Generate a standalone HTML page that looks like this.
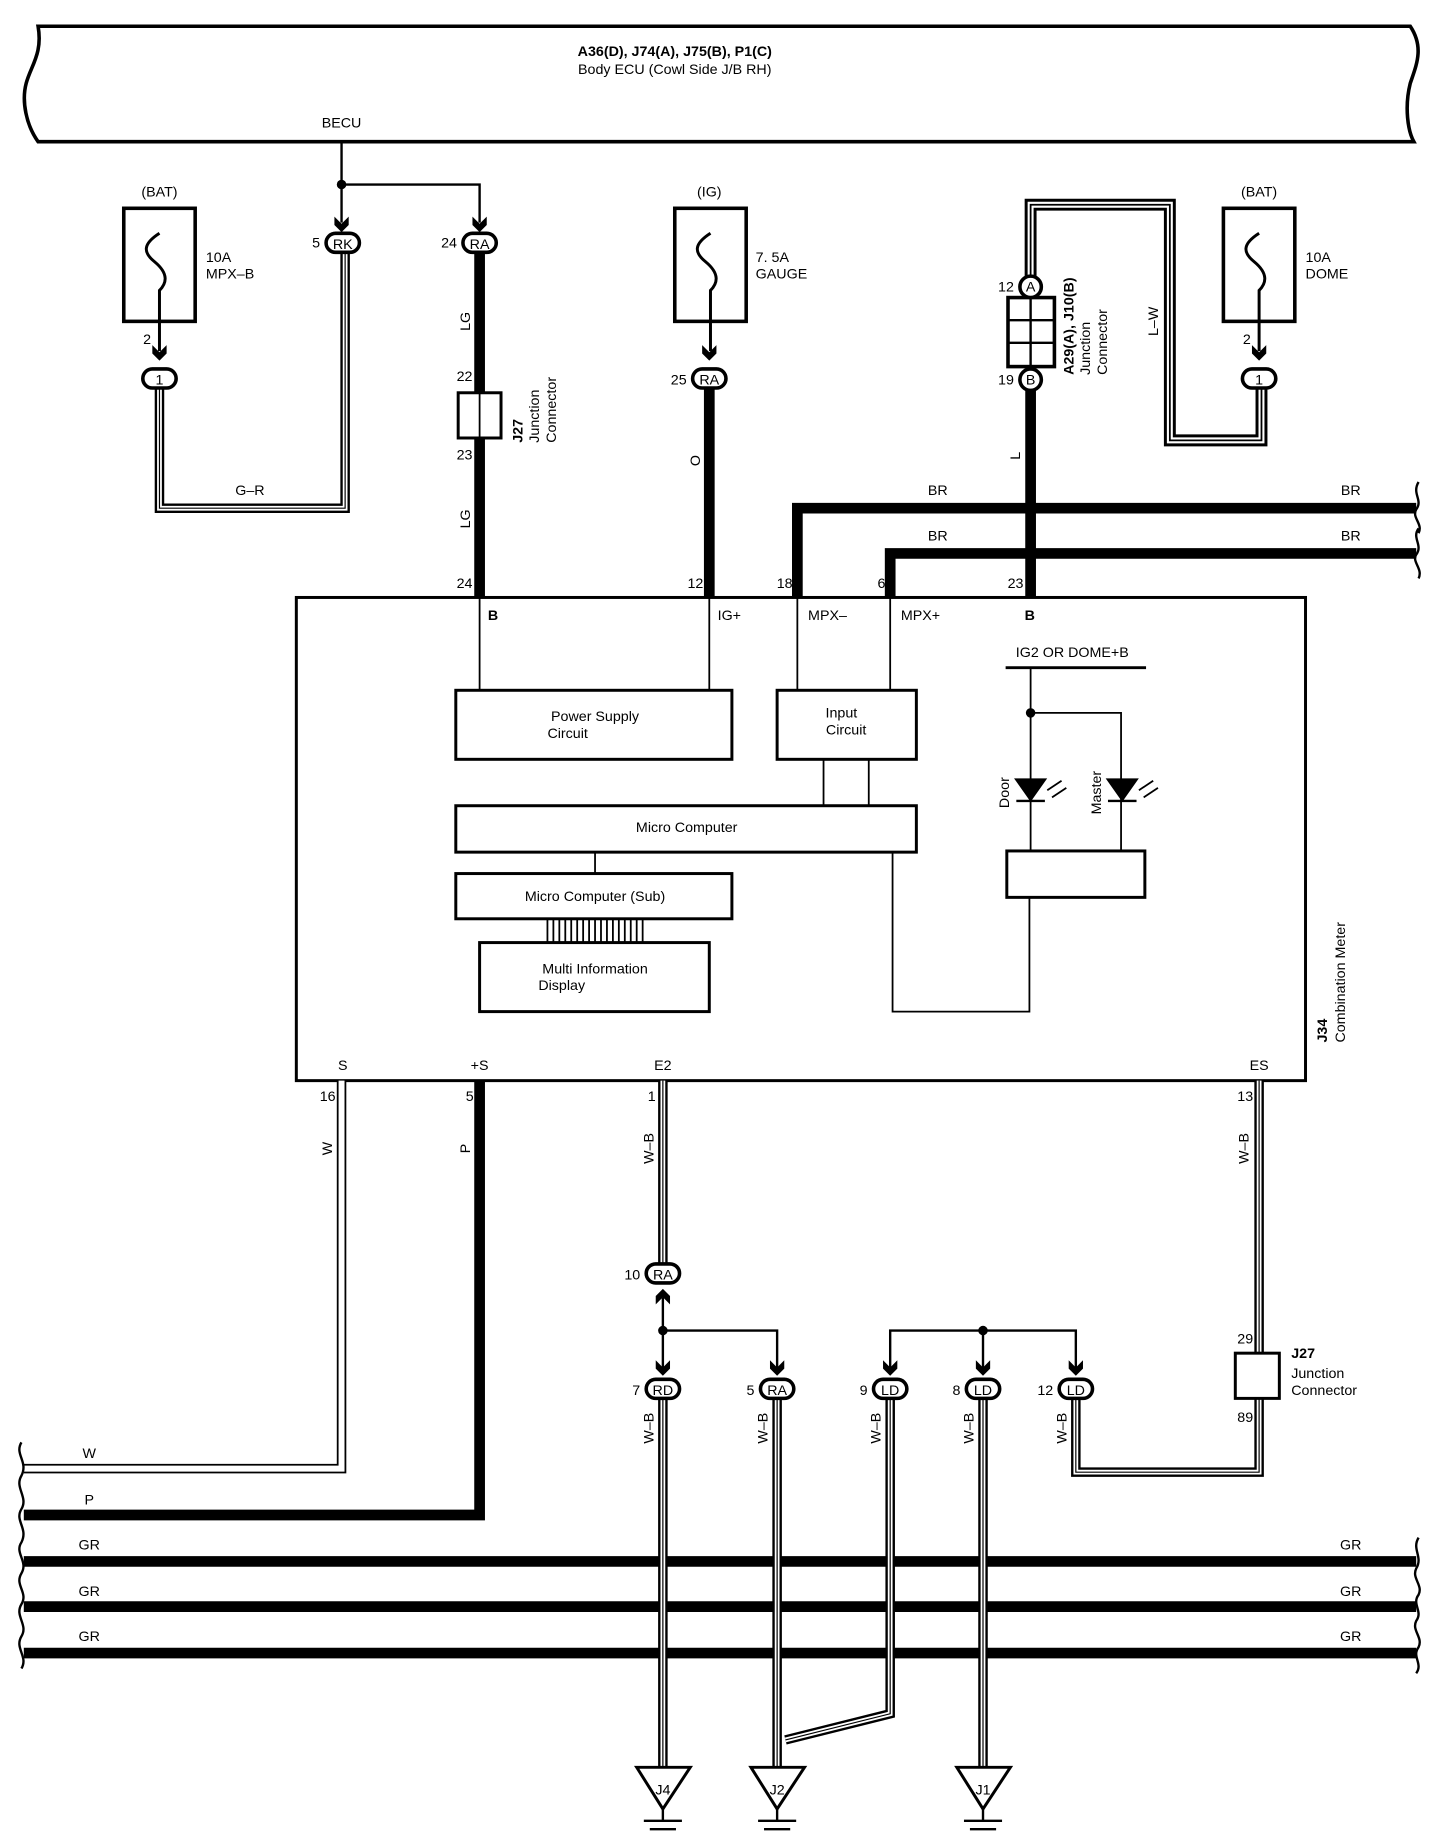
<!DOCTYPE html>
<html><head><meta charset="utf-8"><style>
html,body{margin:0;padding:0;background:#fff}
svg{display:block}
text{font-family:"Liberation Sans",sans-serif;font-size:12px;fill:#000}
.b{font-weight:bold}
</style></head><body>
<svg width="1440" height="1834" viewBox="0 0 1210 1541" xmlns="http://www.w3.org/2000/svg">
<defs>
<g id="arr"><path d="M-6,-10 L0,-4 L6,-10 L6,-3 L0,3 L-6,-3 Z" fill="#000"/></g>
<g id="arrUp"><path d="M-6,10 L0,4 L6,10 L6,3 L0,-3 L-6,3 Z" fill="#000"/></g>
</defs>
<g fill="none" stroke="#000">
<!-- ECU -->
<path d="M32,22 L1185,22 C1197,40 1190,55 1185,70 C1180,90 1183,110 1188,119 L32,119 C22,105 18,85 22,70 C26,55 36,45 32,22 Z" stroke-width="3"/>
<!-- BECU wire -->
<path d="M287,119 V187 M287,155 H403 V187" stroke-width="2"/>
<!-- left fuse -->
<rect x="104" y="175" width="60" height="95" stroke-width="3"/>
<path d="M134,196 C120,205 120,212 130,220 C142,230 140,238 134,244 V295" stroke-width="2.5"/>
<!-- G-R -->
<path d="M134,326 V427 H290 V212" stroke-width="8"/>
<path d="M134,326 V427 H290 V212" stroke="#fff" stroke-width="4"/>
<path d="M134,326 V427 H290 V212" stroke-width="1"/>
<!-- LG -->
<path d="M403,212 V502" stroke-width="9"/>
<rect x="385" y="330" width="36" height="38" fill="#fff" stroke-width="2.5"/>
<path d="M403,330 V368" stroke-width="1.5"/>
<!-- IG fuse -->
<rect x="567" y="175" width="60" height="95" stroke-width="3"/>
<path d="M597,196 C583,205 583,212 593,220 C605,230 603,238 597,244 V295" stroke-width="2.5"/>
<path d="M596,326 V502" stroke-width="9"/>
<!-- L-W -->
<path d="M866,233 V172 H983 V370 H1060 V326" stroke-width="10"/>
<path d="M866,233 V172 H983 V370 H1060 V326" stroke="#fff" stroke-width="5"/>
<path d="M866,233 V172 H983 V370 H1060 V326" stroke-width="1.5"/>
<rect x="847" y="250" width="39" height="58" stroke-width="3" fill="#fff"/>
<path d="M866,250 V308 M847,269 H886 M847,288 H886" stroke-width="2"/>
<path d="M866,327 V502" stroke-width="9"/>
<!-- dome fuse -->
<rect x="1028" y="175" width="60" height="95" stroke-width="3"/>
<path d="M1058,196 C1044,205 1044,212 1054,220 C1066,230 1064,238 1058,244 V295" stroke-width="2.5"/>
<!-- BR -->
<path d="M670,502 V427 H1190" stroke-width="9"/>
<path d="M748,502 V465 H1190" stroke-width="9"/>
<path d="M1192,405 C1186,415 1196,420 1190,428 C1186,435 1196,440 1192,448 M1192,444 C1186,452 1196,458 1190,466 C1186,472 1196,478 1192,486" stroke-width="2"/>
<!-- Combination meter -->
<rect x="249" y="502" width="848" height="406" stroke-width="2.5"/>
<g stroke-width="1.5">
<path d="M403,502 V580 M596,502 V580 M670,502 V580 M748,502 V580"/>
<rect x="383" y="580" width="232" height="58" stroke-width="2.5"/>
<rect x="653" y="580" width="117" height="58" stroke-width="2.5"/>
<path d="M692,638 V677 M730,638 V677"/>
<rect x="383" y="677" width="387" height="39" stroke-width="2.5"/>
<path d="M500,716 V734"/>
<rect x="383" y="734" width="232" height="38" stroke-width="2.5"/>
<path d="M460,772 V792 M465,772 V792 M470,772 V792 M475,772 V792 M480,772 V792 M485,772 V792 M490,772 V792 M495,772 V792 M500,772 V792 M505,772 V792 M510,772 V792 M515,772 V792 M520,772 V792 M525,772 V792 M530,772 V792 M535,772 V792 M540,772 V792"/>
<rect x="403" y="792" width="193" height="58" stroke-width="2.5"/>
<path d="M750,716 V850 H865 V754"/>
<path d="M845,561 H963" stroke-width="2.5"/>
<path d="M866,561 V715 M866,599 H942 V715"/>
<rect x="846" y="715" width="116" height="39" stroke-width="2.5"/>
</g>
<!-- LEDs -->
<path d="M854,655 H878 L866,672 Z M854,673 H878 M931,655 H955 L943,672 Z M931,673 H955" fill="#000" stroke-width="2"/>
<path d="M880,664 L892,656 M884,670 L896,662 M957,664 L969,656 M961,670 L973,662" stroke-width="1.5"/>
<!-- bottom wires -->
<path d="M287,908 V1234 H20" stroke-width="8"/>
<path d="M287,908 V1234 H20" stroke="#fff" stroke-width="5"/>
<path d="M403,908 V1273 H20" stroke-width="9"/>
<path d="M20,1312 H1190 M20,1350 H1190 M20,1389 H1190" stroke-width="9"/>
<path d="M18,1212 C12,1222 24,1228 18,1240 C12,1250 24,1258 18,1268 C12,1278 24,1284 18,1296 C12,1305 24,1312 18,1322 C12,1332 24,1338 18,1348 C12,1358 24,1365 18,1375 C12,1385 24,1392 18,1402" stroke-width="2"/>
<path d="M1192,1292 C1186,1302 1196,1308 1190,1318 C1186,1326 1196,1332 1192,1340 C1186,1348 1196,1354 1190,1362 C1186,1370 1196,1376 1192,1384 C1186,1392 1196,1398 1190,1406" stroke-width="2"/>
<!-- W-B wires -->
<g id="wb">
<path d="M557,908 V1062 M557,1175 V1485 M653,1175 V1485 M826,1175 V1485 M748,1175 V1440 L660,1462 M904,1175 V1237 H1058 V1175 M1058,908 V1137" stroke-width="8"/>
<path d="M557,908 V1062 M557,1175 V1485 M653,1175 V1485 M826,1175 V1485 M748,1175 V1440 L660,1462 M904,1175 V1237 H1058 V1175 M1058,908 V1137" stroke="#fff" stroke-width="4"/>
<path d="M557,908 V1062 M557,1175 V1485 M653,1175 V1485 M826,1175 V1485 M748,1175 V1440 L660,1462 M904,1175 V1237 H1058 V1175 M1058,908 V1137" stroke-width="1"/>
</g>
<path d="M557,1090 V1118 H653 V1150 M557,1118 V1150 M748,1150 V1118 H904 V1150 M826,1118 V1150" stroke-width="2"/>
<rect x="1038" y="1137" width="37" height="38" fill="#fff" stroke-width="2.5"/>
<!-- grounds -->
<g stroke-width="2.5" fill="#fff">
<path d="M535,1485 H580 L557,1520 Z"/><path d="M631,1485 H676 L653,1520 Z"/><path d="M804,1485 H849 L826,1520 Z"/>
</g>
<path d="M557,1520 V1530 M541,1530 H573 M546,1537 H568 M551,1544 H563 M653,1520 V1530 M637,1530 H669 M642,1537 H664 M647,1544 H659 M826,1520 V1530 M810,1530 H842 M815,1537 H837 M820,1544 H832" stroke-width="2"/>
</g>
<!-- junction dots -->
<g fill="#000"><circle cx="287" cy="155" r="4"/><circle cx="866" cy="599" r="4"/><circle cx="557" cy="1118" r="4"/><circle cx="826" cy="1118" r="4"/></g>
<!-- arrows -->
<use href="#arr" x="287" y="192"/><use href="#arr" x="403" y="192"/><use href="#arr" x="134" y="300"/><use href="#arr" x="596" y="300"/><use href="#arr" x="1058" y="300"/>
<use href="#arr" x="557" y="1153"/><use href="#arr" x="653" y="1153"/><use href="#arr" x="748" y="1153"/><use href="#arr" x="826" y="1153"/><use href="#arr" x="904" y="1153"/>
<use href="#arrUp" x="557" y="1086"/>
<!-- connector ovals -->
<g fill="#fff" stroke="#000" stroke-width="3">
<rect x="274" y="196" width="28" height="16" rx="8"/><rect x="389" y="196" width="28" height="16" rx="8"/>
<rect x="120" y="310" width="28" height="16" rx="8"/><rect x="582" y="310" width="28" height="16" rx="8"/><rect x="1044" y="310" width="28" height="16" rx="8"/>
<circle cx="866" cy="241" r="9"/><circle cx="866" cy="319" r="9"/>
<rect x="543" y="1062" width="28" height="16" rx="8"/>
<rect x="543" y="1159" width="28" height="16" rx="8"/><rect x="639" y="1159" width="28" height="16" rx="8"/><rect x="734" y="1159" width="28" height="16" rx="8"/><rect x="812" y="1159" width="28" height="16" rx="8"/><rect x="890" y="1159" width="28" height="16" rx="8"/>
</g>
<g text-anchor="middle" font-size="12">
<text x="288" y="209">RK</text><text x="403" y="209">RA</text><text x="134" y="323">1</text><text x="596" y="323">RA</text><text x="1058" y="323">1</text>
<text x="866" y="245">A</text><text x="866" y="323">B</text><text x="557" y="1075">RA</text>
<text x="557" y="1172">RD</text><text x="653" y="1172">RA</text><text x="748" y="1172">LD</text><text x="826" y="1172">LD</text><text x="904" y="1172">LD</text>
<text x="557" y="1508" font-size="11">J4</text><text x="653" y="1508" font-size="11">J2</text><text x="826" y="1508" font-size="11">J1</text>
<text x="567" y="47" class="b">A36(D), J74(A), J75(B), P1(C)</text>
<text x="567" y="62">Body ECU (Cowl Side J/B RH)</text>
<text x="287" y="107">BECU</text>
<text x="134" y="165">(BAT)</text><text x="596" y="165">(IG)</text><text x="1058" y="165">(BAT)</text>
<text x="210" y="416">G–R</text>
<text x="788" y="416">BR</text><text x="1135" y="416">BR</text><text x="788" y="454">BR</text><text x="1135" y="454">BR</text>
<text x="500" y="606">Power Supply</text><text x="477" y="620">Circuit</text>
<text x="707" y="603">Input</text><text x="711" y="617">Circuit</text>
<text x="577" y="699">Micro Computer</text>
<text x="500" y="757">Micro Computer (Sub)</text>
<text x="500" y="818">Multi Information</text><text x="472" y="832">Display</text>
<text x="901" y="552">IG2 OR DOME+B</text>
<text x="288" y="899">S</text><text x="403" y="899">+S</text><text x="557" y="899">E2</text><text x="1058" y="899">ES</text>
<text x="75" y="1225">W</text><text x="75" y="1264">P</text>
<text x="75" y="1302">GR</text><text x="75" y="1341">GR</text><text x="75" y="1379">GR</text>
<text x="1135" y="1302">GR</text><text x="1135" y="1341">GR</text><text x="1135" y="1379">GR</text>
</g>
<g font-size="12">
<text x="173" y="220">10A</text><text x="173" y="234">MPX–B</text>
<text x="635" y="220">7. 5A</text><text x="635" y="234">GAUGE</text>
<text x="1097" y="220">10A</text><text x="1097" y="234">DOME</text>
<text x="1085" y="1141" class="b">J27</text><text x="1085" y="1158">Junction</text><text x="1085" y="1172">Connector</text>
<text x="410" y="521" class="b">B</text><text x="603" y="521">IG+</text><text x="679" y="521">MPX–</text><text x="757" y="521">MPX+</text><text x="861" y="521" class="b">B</text>
</g>
<g font-size="12" text-anchor="end">
<text x="269" y="208">5</text><text x="384" y="208">24</text><text x="127" y="289">2</text><text x="577" y="323">25</text><text x="1051" y="289">2</text>
<text x="852" y="245">12</text><text x="852" y="323">19</text>
<text x="397" y="320">22</text><text x="397" y="386">23</text><text x="397" y="494">24</text><text x="591" y="494">12</text>
<text x="666" y="494">18</text><text x="744" y="494">6</text><text x="860" y="494">23</text>
<text x="282" y="925">16</text><text x="398" y="925">5</text><text x="551" y="925">1</text><text x="1053" y="925">13</text>
<text x="538" y="1075">10</text><text x="538" y="1172">7</text><text x="634" y="1172">5</text><text x="729" y="1172">9</text><text x="807" y="1172">8</text><text x="885" y="1172">12</text>
<text x="1053" y="1129">29</text><text x="1053" y="1195">89</text>
</g>
<g font-size="12" text-anchor="middle">
<text transform="translate(395,270) rotate(-90)">LG</text>
<text transform="translate(395,436) rotate(-90)">LG</text>
<text transform="translate(588,387) rotate(-90)">O</text>
<text transform="translate(857,383) rotate(-90)">L</text>
<text transform="translate(973,270) rotate(-90)">L–W</text>
<text transform="translate(279,965) rotate(-90)">W</text>
<text transform="translate(395,965) rotate(-90)">P</text>
<text transform="translate(549,965) rotate(-90)">W–B</text>
<text transform="translate(1049,965) rotate(-90)">W–B</text>
<text transform="translate(549,1200) rotate(-90)">W–B</text>
<text transform="translate(645,1200) rotate(-90)">W–B</text>
<text transform="translate(740,1200) rotate(-90)">W–B</text>
<text transform="translate(818,1200) rotate(-90)">W–B</text>
<text transform="translate(896,1200) rotate(-90)">W–B</text>
<text transform="translate(848,666) rotate(-90)">Door</text>
<text transform="translate(925,666) rotate(-90)">Master</text>
</g>
<g font-size="12">
<text transform="translate(439,372) rotate(-90)" class="b">J27</text>
<text transform="translate(453,372) rotate(-90)">Junction</text>
<text transform="translate(467,372) rotate(-90)">Connector</text>
<text transform="translate(902,315) rotate(-90)" class="b">A29(A), J10(B)</text>
<text transform="translate(916,315) rotate(-90)">Junction</text>
<text transform="translate(930,315) rotate(-90)">Connector</text>
<text transform="translate(1115,876) rotate(-90)" class="b">J34</text>
<text transform="translate(1130,876) rotate(-90)">Combination Meter</text>
</g>
</svg>
</body></html>
